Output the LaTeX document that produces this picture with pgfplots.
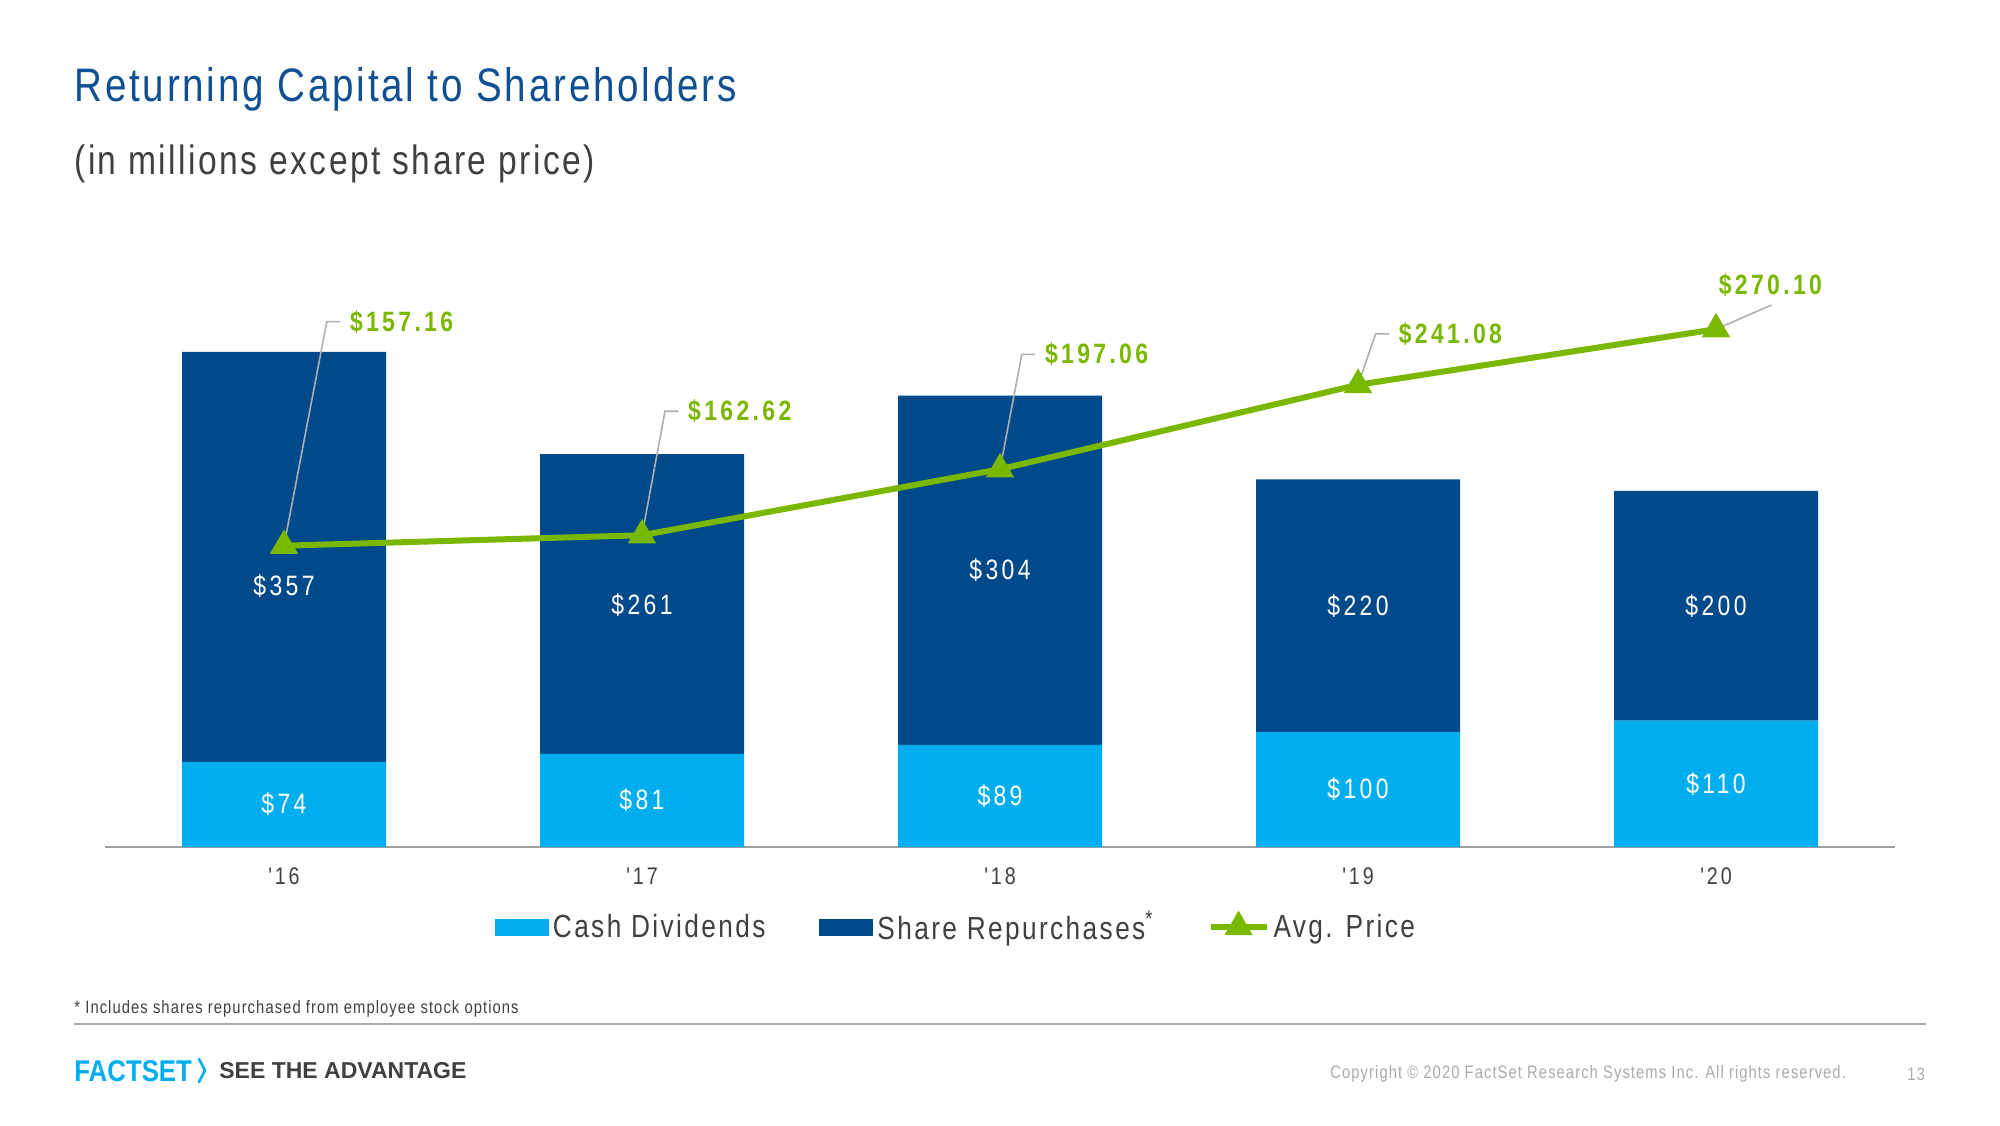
\documentclass[border=0pt]{standalone}
\usepackage{pgfplots}
\pgfplotsset{compat=1.18}
\usepackage{fontspec}
\setmainfont{Liberation Sans}[FakeStretch=0.82, LetterSpace=6]
\newfontfamily\plainfont{Liberation Sans}
\newfontfamily\logofont{Liberation Sans}[FakeStretch=0.86]
\newfontfamily\spacedfont{Liberation Sans}[FakeStretch=0.82, LetterSpace=12]
\newfontfamily\legfont{Liberation Sans}[FakeStretch=0.82, LetterSpace=7.5]
\definecolor{cdiv}{RGB}{0,174,239}
\definecolor{crep}{RGB}{0,74,139}
\definecolor{cgreen}{RGB}{122,184,0}
\definecolor{ctitle}{RGB}{14,80,146}
\definecolor{ctext}{RGB}{64,64,64}
\definecolor{clead}{RGB}{175,175,175}
\definecolor{caxis}{RGB}{160,160,160}
\definecolor{clight}{RGB}{170,170,170}
\pgfplotsset{
  barleg/.style={legend image code/.code={\fill[##1,draw=none] (0pt,-4.25pt) rectangle (27pt,4.25pt);}},
  linleg/.style={legend image code/.code={\draw[mark repeat=2,mark phase=2,##1] plot coordinates {(0pt,0pt) (14pt,0pt) (28pt,0pt)};}},
  frame/.style={at={(52.5pt,139pt)}, anchor=south west, scale only axis,
    width=895pt, height=298.5pt, xmin=-0.5, xmax=4.5, ymin=0, clip=false},
}
\tikzset{
  pricelab/.style={text=cgreen, font=\spacedfont\bfseries\fontsize{14}{16}\selectfont, inner sep=0pt},
}
\begin{document}
\begin{tikzpicture}[x=0.5pt,y=0.5pt]
\path[use as bounding box, fill=white] (0,0) rectangle (2000,1125);
\node[anchor=base west, text=ctitle, font=\fontsize{23.5}{28}\selectfont, inner sep=0] at (74,1023) {Returning Capital to Shareholders};
\node[anchor=base west, text=ctext, font=\fontsize{20.5}{24}\selectfont, inner sep=0] at (74,950) {(in millions except share price)};

% bars
\begin{axis}[frame, ymax=519.8,
  ybar stacked, bar width=102pt,
  axis y line=none, axis x line*=bottom,
  x axis line style={draw=caxis, line width=1pt},
  xtick={0,1,2,3,4}, xticklabels={{'16},{'17},{'18},{'19},{'20}},
  major tick length=0pt,
  xticklabel style={text=ctext, font=\spacedfont\fontsize{12}{14}\selectfont, anchor=center, yshift=-14.5pt}]
\addplot[fill=cdiv, draw=none] coordinates {(0,74) (1,81) (2,89) (3,100) (4,110)};
\addplot[fill=crep, draw=none] coordinates {(0,357) (1,261) (2,304) (3,220) (4,200)};
\end{axis}

% value labels inside the bars (same scale as the bars)
\begin{axis}[frame, ymax=519.8, hide axis]
\addplot[draw=none, mark=none, nodes near coords, point meta=explicit symbolic,
  nodes near coords style={anchor=center, inner sep=0pt, text=white, font=\spacedfont\fontsize{14}{16}\selectfont}]
  coordinates {(0,37) [\$74] (1,40.5) [\$81] (2,44.5) [\$89] (3,50) [\$100] (4,55) [\$110]
               (0,227) [\$357] (1,211) [\$261] (2,241) [\$304] (3,210) [\$220] (4,210) [\$200]};
\end{axis}

% average price line
\begin{axis}[frame, ymax=311.4, hide axis,
  legend columns=3,
  legend style={at={(0.5,0)}, anchor=center, xshift=-21.5pt, yshift=-40pt,
    draw=none, fill=none, text=ctext, font=\legfont\fontsize{16}{18}\selectfont,
    /tikz/every even column/.append style={column sep=25pt}}]
\addlegendimage{barleg, fill=cdiv}
\addlegendentry{Cash Dividends}
\addlegendimage{barleg, fill=crep}
\addlegendentry{Share Repurchases\textsuperscript{*}}
\addplot[cgreen, line width=3pt, mark=triangle*, mark size=5.2pt, mark options={solid}, linleg]
  coordinates {(0,157.16) (1,162.62) (2,197.06) (3,241.08) (4,270.10)};
\addlegendentry{Avg. Price}
\draw[clead, line width=0.8pt] (axis cs:0,157.16) -- ++(21.4pt,112pt) -- ++(6.7pt,0pt) node[pricelab, anchor=west, xshift=4.5pt] {\$157.16};
\draw[clead, line width=0.8pt] (axis cs:1,162.62) -- ++(11.5pt,62pt) -- ++(6.7pt,0pt) node[pricelab, anchor=west, xshift=4.5pt] {\$162.62};
\draw[clead, line width=0.8pt] (axis cs:2,197.06) -- ++(10.9pt,57.4pt) -- ++(6.7pt,0pt) node[pricelab, anchor=west, xshift=4.5pt] {\$197.06};
\draw[clead, line width=0.8pt] (axis cs:3,241.08) -- ++(8.8pt,25.5pt) -- ++(6.7pt,0pt) node[pricelab, anchor=west, xshift=4.5pt] {\$241.08};
\draw[clead, line width=0.8pt] (axis cs:4,270.10) -- ++(27.8pt,12.1pt) node[pricelab, anchor=base, yshift=5pt, xshift=-0.6pt] {\$270.10};
\end{axis}

\node[anchor=west, text=ctext, font=\fontsize{9}{10}\selectfont, inner sep=0] at (74,116) {* Includes shares repurchased from employee stock options};
\draw[clight, line width=0.75pt] (74,101) -- (1926,101);
\node[anchor=west, inner sep=0, text=cdiv, font=\logofont\bfseries\fontsize{15}{18}\selectfont] at (74,54) {FACTSET};
\draw[cdiv, line width=1.3pt, line cap=round] (199,66) -- (205,54.5) -- (199,43);
\node[anchor=west, inner sep=0, text=ctext, font=\plainfont\bfseries\fontsize{11.5}{13}\selectfont] at (219,54) {SEE THE ADVANTAGE};
\node[anchor=west, inner sep=0, text=clight, font=\fontsize{9}{11}\selectfont] at (1330,51) {Copyright \textcopyright{} 2020 FactSet Research Systems Inc. All rights reserved.};
\node[inner sep=0, text=clight, font=\fontsize{9}{11}\selectfont] at (1916,51) {13};
\end{tikzpicture}
\end{document}
